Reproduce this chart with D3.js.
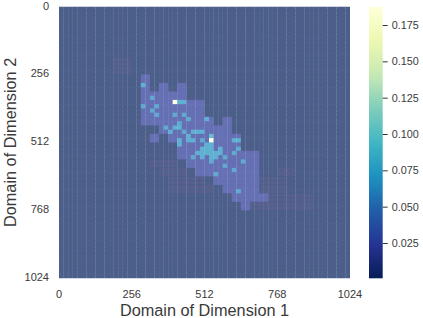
<!DOCTYPE html>
<html lang="en">
<head>
<meta charset="utf-8">
<title>Domain heatmap</title>
<script src="https://cdnjs.cloudflare.com/ajax/libs/d3/7.7.0/d3.min.js"></script>
<style>
  html, body { margin: 0; padding: 0; background: #fff; }
  svg { display: block; }
  text { font-family: "Liberation Sans", Arial, sans-serif; fill: #3a3a3a; }
</style>
</head>
<body>
<div id="graph"></div>
<script>
// cell grid, 64 x 64 over the domain
const gridSize = 64;
const domainTicks = [0, 256, 512, 768, 1024];
const colorTicks = [0.025, 0.05, 0.075, 0.1, 0.125, 0.15, 0.175];
const colorMin = 0.0007;
const colorMax = 0.1874;
const baseValue = 0.0012;

// YlGnBu reversed, same stops as the matplotlib map
const colorStops = ["#081d58", "#253494", "#225ea8", "#1d91c0", "#41b6c4", "#7fcdbb", "#c7e9b4", "#edf8b1", "#ffffd9"];

// coarse blocks (2 x 2 cells) holding some mass: [row, first col, last col]
const blockRuns = [
  [8, 9, 9], [9, 9, 9], [9, 11, 11], [9, 13, 13], [10, 9, 13], [11, 9, 15],
  [12, 9, 15], [13, 9, 16], [13, 18, 18], [14, 11, 18], [15, 10, 10], [15, 12, 19],
  [16, 13, 19], [17, 13, 21], [18, 14, 21], [19, 15, 21], [20, 17, 21], [21, 18, 21],
  [22, 19, 22], [23, 20, 20]
];
const blockValue = 0.024;

// very faint blocks around the main cloud
const faintRuns = [
  [6, 6, 7], [7, 6, 7], [18, 10, 12], [19, 11, 13], [20, 12, 15], [21, 12, 16],
  [19, 24, 25], [20, 22, 24], [21, 22, 24], [22, 23, 27], [23, 21, 27]
];
const faintValue = 0.0022;

// single hot cells
const hotCols = [18, 20, 25, 26, 27, 18, 21, 20, 21, 25, 27, 28, 32, 26, 23, 25, 26, 24, 27, 29, 30, 31,
  28, 33, 26, 28, 29, 31, 33, 38, 39, 26, 32, 33, 31, 32, 33, 35, 39, 30, 31, 32, 33, 34, 35, 38, 29, 31, 33, 34, 36, 33, 40, 36, 38, 34, 39];
const hotRows = [18, 21, 22, 22, 22, 23, 23, 24, 25, 25, 25, 26, 26, 27, 28, 28, 28, 29, 29, 29, 29, 29,
  30, 30, 31, 31, 31, 31, 31, 31, 31, 32, 32, 32, 33, 33, 33, 33, 33, 34, 34, 34, 34, 34, 34, 34, 35, 35, 35, 35, 35, 36, 36, 37, 38, 39, 43];
const hotVals = [0.07, 0.066, 0.187, 0.07, 0.07, 0.066, 0.066, 0.066, 0.066, 0.066, 0.066, 0.066, 0.07, 0.066, 0.066, 0.07, 0.07, 0.07, 0.066, 0.07, 0.07, 0.07,
  0.07, 0.08, 0.07, 0.07, 0.07, 0.066, 0.187, 0.07, 0.07, 0.07, 0.07, 0.07, 0.07, 0.07, 0.07, 0.07, 0.066, 0.07, 0.07, 0.07, 0.07, 0.07, 0.07, 0.066, 0.066, 0.07, 0.07, 0.07, 0.066, 0.066, 0.066, 0.066, 0.066, 0.066, 0.066];

const w = 423;
const h = 318;
const plot = { left: 59, right: 350, top: 6.5, bottom: 278.3 };
const bar = { left: 369, right: 382.7, top: 7, bottom: 278.3 };

const values = [];
for (let r = 0; r < gridSize; r++) {
  values.push(new Array(gridSize).fill(baseValue));
}
function fillRuns(runs, value) {
  runs.forEach(function (run) {
    for (let k = run[1]; k <= run[2]; k++) {
      for (let a = 0; a < 2; a++) {
        for (let b = 0; b < 2; b++) {
          values[run[0] * 2 + a][k * 2 + b] = value;
        }
      }
    }
  });
}
fillRuns(faintRuns, faintValue);
fillRuns(blockRuns, blockValue);
hotCols.forEach(function (c, i) {
  values[hotRows[i]][c] = hotVals[i];
});

const cells = [];
values.forEach(function (row, r) {
  row.forEach(function (v, c) {
    cells.push({ r: r, c: c, v: v });
  });
});

const color = d3.scaleSequential(d3.piecewise(d3.interpolateRgb, colorStops))
  .domain([colorMin, colorMax]);

const svg = d3.select("#graph").append("svg")
  .attr("width", w)
  .attr("height", h);

const defs = svg.append("defs");
defs.append("filter").attr("id", "soft")
  .attr("filterUnits", "userSpaceOnUse")
  .attr("x", 0).attr("y", 0).attr("width", w).attr("height", h)
  .append("feGaussianBlur").attr("stdDeviation", 0.4);

const x = d3.scaleLinear().domain([0, 1024]).range([plot.left, plot.right]);
const y = d3.scaleLinear().domain([0, 1024]).range([plot.top, plot.bottom]);
const cellW = 1024 / gridSize;

// cells overlap a little so the seams stay faint, clipped to the plot box
defs.append("clipPath").attr("id", "plotBox")
  .append("rect")
  .attr("x", plot.left).attr("y", plot.top)
  .attr("width", plot.right - plot.left).attr("height", plot.bottom - plot.top);

svg.append("g")
  .attr("filter", "url(#soft)")
  .append("g")
  .attr("clip-path", "url(#plotBox)")
  .attr("opacity", 0.7)
  .selectAll("rect")
  .data(cells)
  .enter()
  .append("rect")
  .attr("x", d => x(d.c * cellW))
  .attr("y", d => y(d.r * cellW))
  .attr("width", (plot.right - plot.left) / gridSize + 0.25)
  .attr("height", (plot.bottom - plot.top) / gridSize + 0.7)
  .attr("fill", d => color(d.v));

// tick labels, no tick marks on the heatmap axes
svg.append("g").selectAll("text")
  .data(domainTicks)
  .enter()
  .append("text")
  .attr("x", d => x(d))
  .attr("y", plot.bottom + 20)
  .attr("text-anchor", "middle")
  .attr("font-size", 11)
  .text(d => d);

svg.append("g").selectAll("text")
  .data(domainTicks)
  .enter()
  .append("text")
  .attr("x", plot.left - 10)
  .attr("y", d => y(d) + 3)
  .attr("text-anchor", "end")
  .attr("font-size", 11)
  .text(d => d);

svg.append("text")
  .attr("x", (plot.left + plot.right) / 2)
  .attr("y", 316)
  .attr("text-anchor", "middle")
  .attr("font-size", 16.3)
  .text("Domain of Dimension 1");

svg.append("text")
  .attr("transform", "translate(16," + ((plot.top + plot.bottom) / 2) + ") rotate(-90)")
  .attr("text-anchor", "middle")
  .attr("font-size", 16.3)
  .text("Domain of Dimension 2");

// colorbar
const grad = defs.append("linearGradient")
  .attr("id", "cbar")
  .attr("x1", 0).attr("x2", 0).attr("y1", 1).attr("y2", 0);
d3.range(0, 1.0001, 0.02).forEach(function (t) {
  grad.append("stop")
    .attr("offset", t)
    .attr("stop-color", color(colorMin + t * (colorMax - colorMin)));
});

svg.append("rect")
  .attr("x", bar.left)
  .attr("y", bar.top)
  .attr("width", bar.right - bar.left)
  .attr("height", bar.bottom - bar.top)
  .attr("fill", "url(#cbar)");

const cy = d3.scaleLinear().domain([colorMin, colorMax]).range([bar.bottom, bar.top]);
const cbarAxis = svg.append("g")
  .attr("transform", "translate(" + bar.right + ",0)")
  .call(d3.axisRight(cy).tickValues(colorTicks).tickFormat(d3.format(".3f")).tickSize(5).tickPadding(4));
cbarAxis.select(".domain").remove();
cbarAxis.selectAll("line").attr("stroke", "#333");
cbarAxis.selectAll("text")
  .attr("font-size", 10.8)
  .attr("font-family", null);
</script>
</body>
</html>
